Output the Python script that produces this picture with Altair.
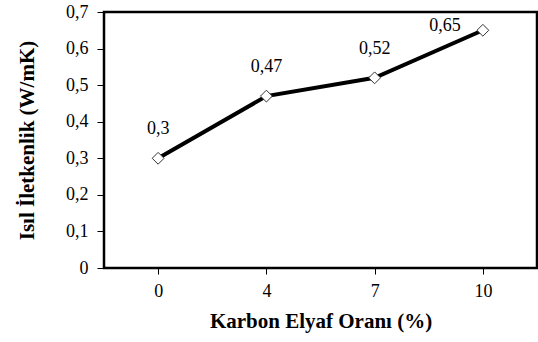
import altair as alt
import pandas as pd

oran = ["0", "4", "7", "10"]
iletkenlik = [0.30, 0.47, 0.52, 0.65]
etiket = ["0,3", "0,47", "0,52", "0,65"]

df = pd.DataFrame({"oran": oran, "k": iletkenlik, "etiket": etiket})

FONT = "Liberation Serif"
FS = 18
TFS = 21

x = alt.X("oran:O", sort=oran, scale=alt.Scale(type="point", padding=0.5),
          axis=alt.Axis(title="Karbon  Elyaf Oranı (%)", labelAngle=0, labelFontSize=FS,
                        titleFontSize=TFS, titleFontWeight="bold", labelPadding=8,
                        titlePadding=10, tickSize=6, tickColor="#000", domain=False,
                        labelColor="#000", titleColor="#000", labelFont=FONT, titleFont=FONT))
y = alt.Y("k:Q", scale=alt.Scale(domain=[0, 0.7]),
          axis=alt.Axis(title="Isıl İletkenlik (W/mK)", values=[0, 0.1, 0.2, 0.3, 0.4, 0.5, 0.6, 0.7],
                        labelExpr="datum.value == 0 ? '0' : replace(format(datum.value, '.1f'), '.', ',')",
                        labelFontSize=FS, titleFontSize=TFS, titleFontWeight="bold",
                        tickSize=7, tickColor="#000", domain=False, grid=False,
                        labelPadding=9, titlePadding=28, labelColor="#000", titleColor="#000",
                        labelFont=FONT, titleFont=FONT))

base = alt.Chart(df)
line = base.mark_line(color="#000", strokeWidth=4).encode(x=x, y=y)
pts = base.mark_point(shape="diamond", filled=True, fill="white", stroke="#333",
                      strokeWidth=1, size=140, opacity=1).encode(x=x, y=y)
txt1 = base.transform_filter(alt.datum.oran != "10").mark_text(
    font=FONT, fontSize=FS, color="#000", dy=-29).encode(x=x, y=y, text="etiket:N")
txt2 = base.transform_filter(alt.datum.oran == "10").mark_text(
    font=FONT, fontSize=FS, color="#000", dx=-38, dy=-4).encode(x=x, y=y, text="etiket:N")

chart = alt.layer(line, pts, txt1, txt2).properties(
    width=433, height=256,
    background="white",
    autosize=alt.AutoSizeParams(type="none"),
    padding={"left": 104, "top": 12, "right": 1, "bottom": 74},
).configure_view(stroke="#000", strokeWidth=2.5)

chart.save("out.html", embed_options={"renderer": "svg", "actions": False})
